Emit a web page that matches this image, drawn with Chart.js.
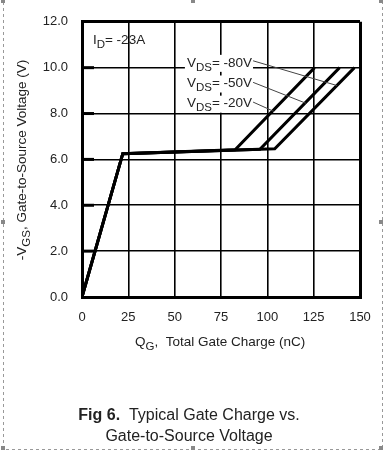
<!DOCTYPE html>
<html>
<head>
<meta charset="utf-8">
<script src="https://cdn.jsdelivr.net/npm/chart.js@4.4.1/dist/chart.umd.min.js"></script>
<style>
html,body{margin:0;padding:0;background:#fff;}
#wrap{position:relative;width:387px;height:452px;}
canvas{display:block;}
</style>
</head>
<body>
<div id="wrap"><canvas id="c" width="387" height="452"></canvas></div>
<script>
// ---- data ----
const xTicks = [0, 25, 50, 75, 100, 125, 150];
const yTicks = [0, 2, 4, 6, 8, 10, 12];
const seriesNames = ['-20V', '-50V', '-80V'];
const qg20 = [0, 22, 82.6, 125.5];
const vgs20 = [0, 6.25, 6.42, 10];
const qg50 = [0, 22, 96, 139];
const vgs50 = [0, 6.25, 6.44, 10];
const qg80 = [0, 22, 104, 147];
const vgs80 = [0, 6.25, 6.46, 10];

const FONT = '"Liberation Sans", Arial, sans-serif';
const TXT = '#222';

function pts(xs, ys){ return xs.map((x,i)=>({x:x, y:ys[i]})); }

// draw text with subscripts; parts: [text, isSub]
function partsWidth(ctx, parts, size, subSize, bold){
  let w = 0;
  parts.forEach(p=>{
    ctx.font = (bold?'bold ':'') + (p[1]?subSize:size) + 'px ' + FONT;
    w += ctx.measureText(p[0]).width;
  });
  return w;
}
function drawParts(ctx, parts, x, y, size, subSize, subShift){
  let cx = x;
  ctx.textBaseline = 'middle';
  ctx.textAlign = 'left';
  parts.forEach(p=>{
    const sub = p[1];
    ctx.font = (p[2]?'bold ':'') + (sub?subSize:size) + 'px ' + FONT;
    ctx.fillText(p[0], cx, y + (sub?subShift:0));
    cx += ctx.measureText(p[0]).width;
  });
  return cx - x;
}

const annot = {
  id: 'annot',
  afterDatasetsDraw(chart){
    const ctx = chart.ctx;
    const xs = chart.scales.x, ys = chart.scales.y;
    ctx.save();
    // thick inner tick marks on y axis
    ctx.strokeStyle = '#000';
    ctx.lineWidth = 3;
    [2,4,6,8,10].forEach(v=>{
      const py = ys.getPixelForValue(v);
      ctx.beginPath();
      ctx.moveTo(xs.left, py);
      ctx.lineTo(xs.left + 12, py);
      ctx.stroke();
    });
    // leader lines: label end -> curve
    const leaders = [
      [[92.3, 10.30], [137.6, 9.22]],
      [[92.3, 9.36], [121.4, 8.43]],
      [[92.3, 8.50], [103.6, 8.09]]
    ];
    ctx.strokeStyle = '#444';
    ctx.lineWidth = 1;
    leaders.forEach(l=>{
      ctx.beginPath();
      ctx.moveTo(xs.getPixelForValue(l[0][0]), ys.getPixelForValue(l[0][1]));
      ctx.lineTo(xs.getPixelForValue(l[1][0]), ys.getPixelForValue(l[1][1]));
      ctx.stroke();
    });
    // VDS labels
    const labs = [
      ['-80V', 10.21],
      ['-50V', 9.31],
      ['-20V', 8.43]
    ];
    labs.forEach(l=>{
      const parts = [['V',false],['DS',true],['= '+l[0],false]];
      const px = xs.getPixelForValue(56.6);
      const py = ys.getPixelForValue(l[1]);
      const w = partsWidth(ctx, parts, 13.5, 11.5);
      ctx.fillStyle = '#fff';
      ctx.fillRect(px-2, py-8, w+3, 17);
      ctx.fillStyle = TXT;
      drawParts(ctx, parts, px, py, 13.5, 11.5, 4.5);
    });
    // ID label
    ctx.fillStyle = TXT;
    drawParts(ctx, [['I',false],['D',true],['= -23A',false]],
      xs.getPixelForValue(5.9), ys.getPixelForValue(11.18), 13.5, 11.5, 4.5);
    ctx.restore();
  },
  afterDraw(chart){
    const ctx = chart.ctx;
    ctx.save();
    ctx.fillStyle = TXT;
    // x title
    drawParts(ctx, [['Q',false],['G',true],[',  Total Gate Charge (nC)',false]], 135, 342, 13.5, 11.5, 4.5);
    // y title (rotated)
    ctx.save();
    ctx.translate(22, 160);
    ctx.rotate(-Math.PI/2);
    const yp = [['-V',false],['GS',true],[', Gate-to-Source Voltage (V)',false]];
    const yw = partsWidth(ctx, yp, 13.5, 11.5);
    drawParts(ctx, yp, -yw/2, 0, 13.5, 11.5, 4.5);
    ctx.restore();
    // caption
    const l1 = [['Fig 6.',false,true],['  Typical Gate Charge vs.',false,false]];
    let w1 = 0;
    l1.forEach(p=>{ ctx.font=(p[2]?'bold ':'')+'16px '+FONT; w1+=ctx.measureText(p[0]).width; });
    drawParts(ctx, l1, 189 - w1/2, 416, 16, 16, 0);
    ctx.font = '16px ' + FONT;
    ctx.textAlign = 'center';
    ctx.fillText('Gate-to-Source Voltage', 189, 437);
    // dashed frame + handles
    ctx.strokeStyle = '#999';
    ctx.lineWidth = 1;
    ctx.setLineDash([3,3]);
    ctx.beginPath();
    ctx.moveTo(3.5, 2); ctx.lineTo(3.5, 449.5);
    ctx.lineTo(382.5, 449.5); ctx.lineTo(382.5, 2);
    ctx.stroke();
    ctx.setLineDash([]);
    ctx.fillStyle = '#888';
    [[3,1],[193,1],[381,1],[3,222],[381,222],[3,448],[193,448],[381,448]].forEach(h=>{
      ctx.fillRect(h[0]-2, h[1]-2, 4, 4);
    });
    ctx.restore();
  }
};

new Chart(document.getElementById('c'), {
  type: 'line',
  data: {
    datasets: [
      {label: seriesNames[0], data: pts(qg20, vgs20)},
      {label: seriesNames[1], data: pts(qg50, vgs50)},
      {label: seriesNames[2], data: pts(qg80, vgs80)}
    ].map(d=>Object.assign(d, {borderColor:'#000', borderWidth:3, pointRadius:0, tension:0, fill:false, borderJoinStyle:'miter'}))
  },
  options: {
    responsive: false,
    animation: false,
    devicePixelRatio: 1,
    layout: {padding: {left: 0, top: 18, right: 27, bottom: 125}},
    plugins: {legend: {display: false}, tooltip: {enabled: false}},
    scales: {
      x: {
        type: 'linear', min: 0, max: 150,
        afterFit(s){ s.height = 30; },
        afterBuildTicks(s){ s.ticks = xTicks.map(v=>({value:v})); },
        ticks: {padding: 13, color: TXT, font: {family: FONT, size: 13}, callback: v=>String(v)},
        grid: {color: '#000', drawTicks: false, lineWidth: c => (c.tick && (c.tick.value===0||c.tick.value===150)) ? 3 : 1.6},
        border: {display: true, color: '#000', width: 3}
      },
      y: {
        type: 'linear', min: 0, max: 12,
        afterFit(s){ s.width = 82; },
        afterBuildTicks(s){ s.ticks = yTicks.map(v=>({value:v})); },
        ticks: {padding: 14, color: TXT, font: {family: FONT, size: 13}, callback: v=>Number(v).toFixed(1)},
        grid: {color: '#000', drawTicks: false, lineWidth: c => (c.tick && (c.tick.value===0||c.tick.value===12)) ? 3 : 1.6},
        border: {display: true, color: '#000', width: 3}
      }
    }
  },
  plugins: [annot]
});
</script>
</body>
</html>
